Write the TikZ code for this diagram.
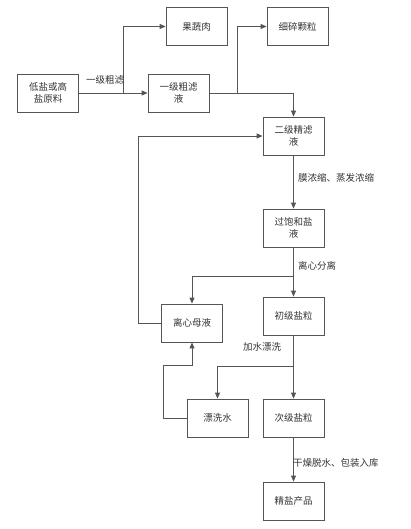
\documentclass[tikz,border=0pt]{standalone}
\usepackage{fontspec}
\setmainfont{Noto Sans CJK SC}
\usetikzlibrary{arrows.meta}
\definecolor{ln}{HTML}{555555}
\definecolor{tx}{HTML}{333333}
\tikzset{
  box/.style={draw=ln, line width=0.8pt, minimum width=61pt, minimum height=38pt, inner sep=1pt, align=center, text=tx, font=\fontsize{9.5}{12}\selectfont},
  arr/.style={draw=ln, line width=0.8pt, -{Triangle[width=5pt,length=6pt]}},
  lbl/.style={text=tx, font=\fontsize{9.5}{12}\selectfont, inner sep=1pt}
}
\begin{document}
\begin{tikzpicture}[x=1pt,y=-1pt]
\useasboundingbox (0,0) rectangle (410,529);
\node[box] (raw) at (48,93) {低盐或高\\盐原料};
\node[box] (gsr) at (196.5,26.5) {果蔬肉};
\node[box] (xskl) at (297.5,26.5) {细碎颗粒};
\node[box] (yj) at (178.5,93) {一级粗滤\\液};
\node[box] (ej) at (293.5,136) {二级精滤\\液};
\node[box] (gb) at (293.5,228) {过饱和盐\\液};
\node[box] (cj) at (293.5,316) {初级盐粒};
\node[box] (lx) at (192,323) {离心母液};
\node[box] (px) at (217.5,418) {漂洗水};
\node[box] (cij) at (293.5,418) {次级盐粒};
\node[box] (jy) at (293.5,501) {精盐产品};
\coordinate (b1) at (123,93);
\coordinate (b2) at (237,93);
\coordinate (b3) at (293.5,276);
\coordinate (b4) at (293.5,366);
\coordinate (c1) at (138,323);
\coordinate (l1) at (163,365);
\draw[arr] (raw.east) -- (yj.west);
\draw[arr] (b1) |- (gsr.west);
\draw[arr] (yj.east) -| (ej.north);
\draw[arr] (b2) |- (xskl.west);
\draw[arr] (lx.west) -- (c1) |- (ej.west);
\draw[arr] (ej.south) -- (gb.north);
\draw[arr] (gb.south) -- (cj.north);
\draw[arr] (b3) -| (lx.north);
\draw[arr] (cj.south) -- (cij.north);
\draw[arr] (b4) -| (px.north);
\draw[arr] (px.west) -| (l1) -| (lx.south);
\draw[arr] (cij.south) -- (jy.north);
\node[lbl] (t1) at (105,80) {一级粗滤};
\node[lbl, anchor=west] (t2) at (297,178) {膜浓缩、蒸发浓缩};
\node[lbl, anchor=west] (t3) at (297,266) {离心分离};
\node[lbl] (t4) at (262,347) {加水漂洗};
\node[lbl, anchor=west] (t5) at (292,463) {干燥脱水、包装入库};
\end{tikzpicture}
\end{document}
